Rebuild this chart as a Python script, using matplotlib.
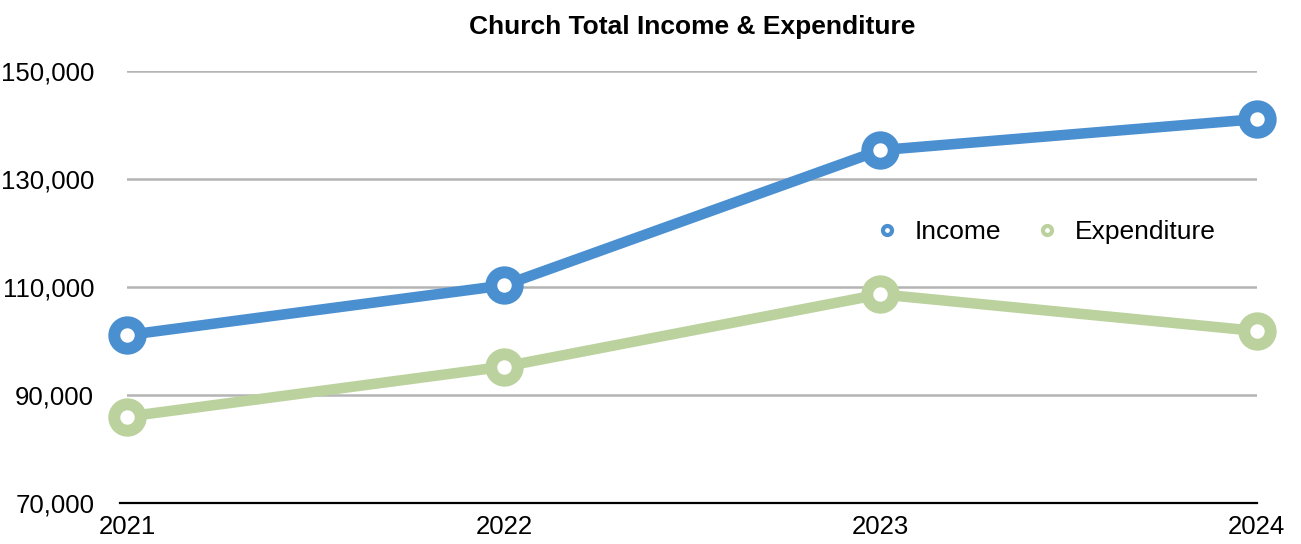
import matplotlib.pyplot as plt
from matplotlib.lines import Line2D
from matplotlib.ticker import FuncFormatter

plt.rcParams['font.family'] = ['Liberation Sans', 'DejaVu Sans']

years = [2021, 2022, 2023, 2024]
income = [101100, 110300, 135350, 141100]
expenditure = [86000, 95250, 108650, 101850]
yticks = [70000, 90000, 110000, 130000, 150000]

blue = "#4a8fd0"
green = "#bbd29e"

fig = plt.figure(figsize=(13.01, 5.44), dpi=100)
ax = fig.add_axes([0.098, 0.0754, 0.868, 0.794])

for vals, c in [(income, blue), (expenditure, green)]:
    ax.plot(years, vals, color=c, lw=7.6, marker="o", markersize=19,
            markerfacecolor="white", markeredgecolor=c, markeredgewidth=8.6,
            clip_on=False, zorder=3)

ax.set_xlim(2021, 2024)
ax.set_ylim(70000, 150000)
ax.set_xticks(years)
ax.set_yticks(yticks)
ax.yaxis.set_major_formatter(FuncFormatter(lambda v, p: f"{int(v):,}"))
ax.tick_params(axis="both", length=0, labelsize=18.5)
ax.tick_params(axis="y", pad=24)
ax.tick_params(axis="x", pad=9)

ax.grid(axis="y", color="#b4b4b4", lw=1.8)
ax.set_axisbelow(True)
for s in ["top", "right", "left"]:
    ax.spines[s].set_visible(False)
ax.spines["bottom"].set_linewidth(1.6)
ax.spines["bottom"].set_bounds(2020.98, 2024)

ax.set_title("Church Total Income & Expenditure", fontsize=19, fontweight="bold", pad=27)

handles = [Line2D([], [], lw=0, marker="o", markersize=6.5, markerfacecolor="white",
                  markeredgecolor=c, markeredgewidth=3) for c in (blue, green)]
ax.legend(handles, ["Income", "Expenditure"], ncol=2, frameon=False, fontsize=19,
          loc="center", bbox_to_anchor=(0.812, 0.627), handlelength=1.0,
          handletextpad=0.55, columnspacing=1.25)

fig.savefig("out.png", dpi=100)
